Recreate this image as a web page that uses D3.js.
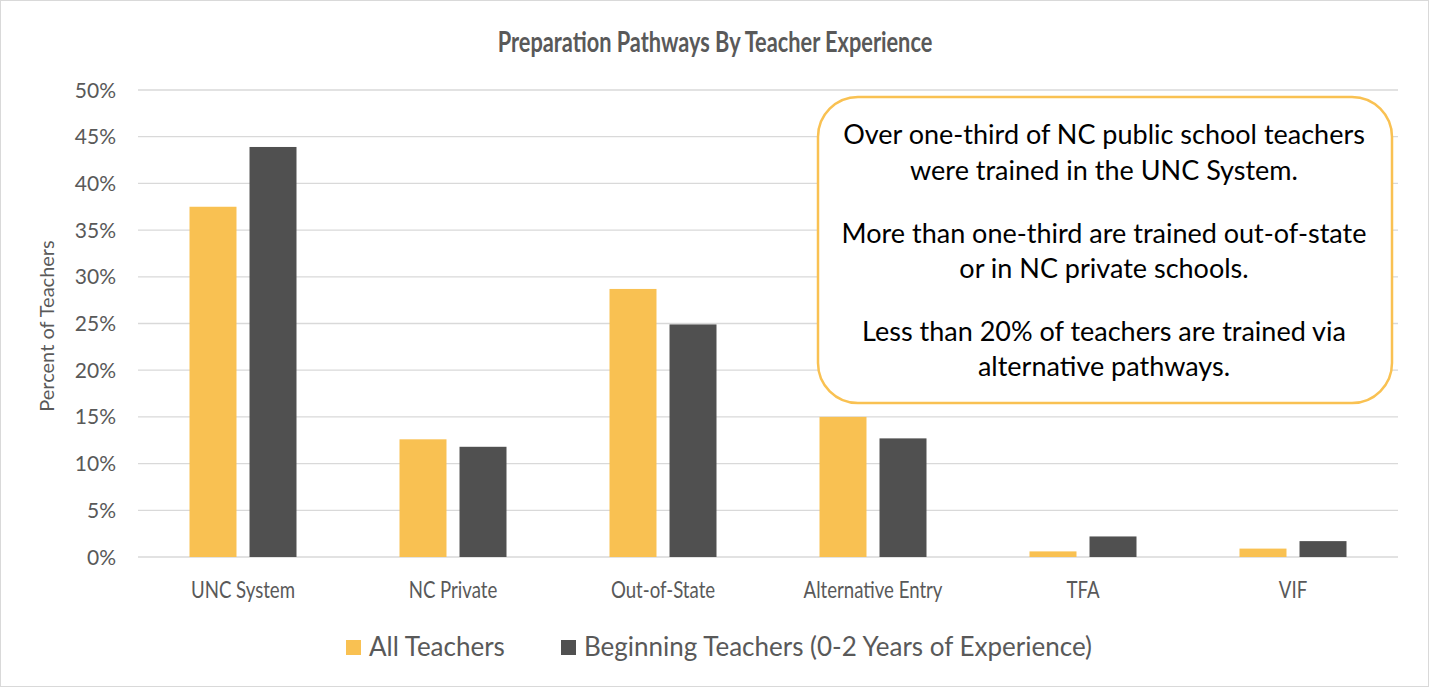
<!DOCTYPE html>
<html>
<head>
<meta charset="utf-8">
<script src="https://cdn.jsdelivr.net/npm/d3@7"></script>
<style>
  body { margin: 0; background: #fff; }
  .narrow { font-family: Lato, "Open Sans", sans-serif; }
  .body { font-family: Lato, "Open Sans", sans-serif; }
</style>
</head>
<body>
<div id="canvas"></div>
<script>
// data
const categories = ["UNC System", "NC Private", "Out-of-State", "Alternative Entry", "TFA", "VIF"];
const series = ["All Teachers", "Beginning Teachers (0-2 Years of Experience)"];
const allTeachers = [37.5, 12.6, 28.7, 15.0, 0.6, 0.9];
const beginningTeachers = [43.9, 11.8, 24.9, 12.7, 2.2, 1.7];
const yTicks = [0, 5, 10, 15, 20, 25, 30, 35, 40, 45, 50];
const colors = ["#F9C152", "#505050"];
const noteLines = [
  ["Over one-third of NC public school teachers", "were trained in the UNC System."],
  ["More than one-third are trained out-of-state", "or in NC private schools."],
  ["Less than 20% of teachers are trained via", "alternative pathways."]
];

const width = 1429;
const height = 687;
const margin = { top: 90, left: 138, bottom: 130, right: 31 };
const iwidth = width - margin.left - margin.right;
const iheight = height - margin.top - margin.bottom;

const svg = d3.select("#canvas").append("svg")
  .attr("width", width)
  .attr("height", height);

// chart border
svg.append("rect")
  .attr("x", 0.5).attr("y", 0.5)
  .attr("width", width - 1).attr("height", height - 1)
  .style("fill", "#fff")
  .style("stroke", "#D9D9D9");

// title (squeezed to look like a condensed face)
svg.append("text")
  .attr("class", "narrow")
  .attr("transform", "translate(715, 52) scale(0.75, 1)")
  .attr("text-anchor", "middle")
  .style("font-size", "29px")
  .style("font-weight", "bold")
  .style("fill", "#595959")
  .text("Preparation Pathways By Teacher Experience");

const g = svg.append("g")
  .attr("transform", `translate(${margin.left}, ${margin.top})`);

const y = d3.scaleLinear().domain([0, 50]).range([iheight, 0]);

const x0 = d3.scaleBand().domain(categories).range([0, iwidth]);
const x1 = d3.scaleBand().domain(series).range([-53.5, 53.5]).paddingInner(0.217);

// gridlines
g.append("g")
  .selectAll("line")
  .data(yTicks)
  .enter()
  .append("line")
  .attr("x1", 0).attr("x2", iwidth)
  .attr("y1", d => y(d)).attr("y2", d => y(d))
  .style("stroke", "#D9D9D9")
  .style("stroke-width", 1.3);

// y tick labels
g.append("g")
  .selectAll("text")
  .data(yTicks)
  .enter()
  .append("text")
  .attr("class", "body")
  .attr("x", -22)
  .attr("y", d => y(d))
  .attr("dy", "0.36em")
  .attr("text-anchor", "end")
  .style("font-size", "21px")
  .style("fill", "#595959")
  .text(d => d + "%");

// bars
const rows = categories.map((c, i) => ({ cat: c, vals: [allTeachers[i], beginningTeachers[i]] }));

const groups = g.selectAll(".grp").data(rows).enter()
  .append("g")
  .attr("class", "grp")
  .attr("transform", d => `translate(${x0(d.cat) + x0.bandwidth() / 2}, 0)`);

groups.selectAll("rect")
  .data(d => d.vals.map((v, j) => ({ s: series[j], v: v, j: j })))
  .enter()
  .append("rect")
  .attr("x", d => x1(d.s))
  .attr("y", d => y(d.v))
  .attr("width", x1.bandwidth())
  .attr("height", d => iheight - y(d.v))
  .style("fill", d => colors[d.j]);

// x labels
g.append("g")
  .selectAll("text")
  .data(categories)
  .enter()
  .append("text")
  .attr("class", "narrow")
  .attr("transform", d => `translate(${x0(d) + x0.bandwidth() / 2}, ${iheight + 41}) scale(0.81, 1)`)
  .attr("text-anchor", "middle")
  .style("font-size", "23px")
  .style("fill", "#595959")
  .text(d => d);

// y axis title
svg.append("text")
  .attr("class", "narrow")
  .attr("transform", "translate(54, 326) rotate(-90)")
  .attr("text-anchor", "middle")
  .style("font-size", "20px")
  .style("fill", "#595959")
  .text("Percent of Teachers");

// legend
const legendX = [346, 561];
const legend = svg.append("g").selectAll("g").data(series).enter()
  .append("g")
  .attr("transform", (d, i) => `translate(${legendX[i]}, 647)`);
legend.append("rect")
  .attr("x", 0).attr("y", -7)
  .attr("width", 15).attr("height", 15)
  .style("fill", (d, i) => colors[i]);
legend.append("text")
  .attr("class", "body")
  .attr("x", 23).attr("y", 0)
  .attr("dy", "0.36em")
  .style("font-size", "26px")
  .style("fill", "#595959")
  .text(d => d);

// annotation box
svg.append("rect")
  .attr("x", 818).attr("y", 97)
  .attr("width", 574).attr("height", 306)
  .attr("rx", 40).attr("ry", 40)
  .style("fill", "#fff")
  .style("stroke", "#F9C152")
  .style("stroke-width", 2.5);

const baselines = [[144, 180], [243, 278], [341, 376]];
noteLines.forEach((para, i) => {
  para.forEach((line, k) => {
    svg.append("text")
      .attr("class", "body")
      .attr("x", 1104)
      .attr("y", baselines[i][k])
      .attr("text-anchor", "middle")
      .style("font-size", "27px")
      .style("fill", "#000")
      .text(line);
  });
});
</script>
</body>
</html>
